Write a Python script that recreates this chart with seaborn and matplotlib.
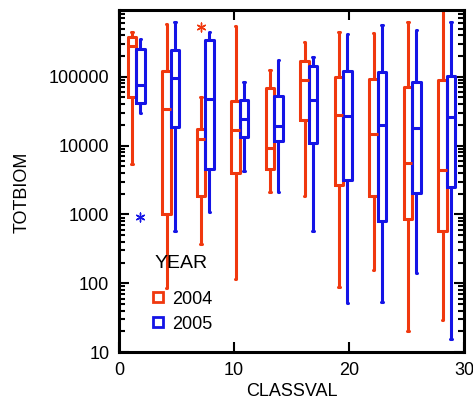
import numpy as np
import pandas as pd
import matplotlib.pyplot as plt
import seaborn as sns
from matplotlib.lines import Line2D
from matplotlib.ticker import LogLocator, FuncFormatter, NullFormatter, FixedLocator

classval = [1.5, 4.5, 7.5, 10.5, 13.5, 16.5, 19.5, 22.5, 25.5, 28.5]

# box stats (min, q1, median, q3, max)
min_2004 = [5360, 84, 371, 117, 2090, 1870, 88, 158, 20, 29]
q1_2004 = [50900, 1016, 1830, 4020, 4640, 23400, 2670, 1870, 861, 565]
med_2004 = [283000, 33400, 12300, 16600, 9330, 90600, 28000, 14900, 5550, 4400]
q3_2004 = [374000, 122000, 17200, 44600, 68700, 169000, 99100, 92700, 70100, 90600]
max_2004 = [442000, 577000, 50900, 540000, 126000, 324000, 451000, 428000, 622000, 950000]

min_2005 = [29200, 565, 1077, 4300, 2130, 571, 52, 54, 142, 15.4]
q1_2005 = [41700, 18800, 4540, 13500, 11600, 11000, 3150, 813, 2040, 2470]
med_2005 = [74800, 95500, 48100, 24500, 19100, 46600, 26700, 20100, 18200, 26200]
q3_2005 = [251000, 240000, 342000, 45500, 52000, 141000, 122000, 117000, 83800, 101000]
max_2005 = [350000, 631000, 442000, 83800, 172000, 196000, 418000, 564000, 478000, 622000]

outlier_classval = [1.5, 7.5]
outlier_year = ["2005", "2004"]
outlier_value = [910, 532000]

years = ["2004", "2005"]
colors = {"2004": "#F0380E", "2005": "#1414E6"}

stats = {
    "2004": [min_2004, q1_2004, med_2004, q3_2004, max_2004],
    "2005": [min_2005, q1_2005, med_2005, q3_2005, max_2005],
}
rows = []
for yr in years:
    for i, cv in enumerate(classval):
        for s in stats[yr]:
            rows.append({"CLASSVAL": cv, "YEAR": yr, "TOTBIOM": s[i]})
df = pd.DataFrame(rows)

sns.set_style("ticks", {"axes.edgecolor": "black", "text.color": "black",
                        "xtick.color": "black", "ytick.color": "black",
                        "axes.labelcolor": "black"})
plt.rcParams["font.family"] = ["Liberation Sans", "DejaVu Sans"]

BOX_WIDTH = 0.48
fig, ax = plt.subplots(figsize=(4.73, 4.09), dpi=100)
sns.boxplot(
    data=df, x="CLASSVAL", y="TOTBIOM", hue="YEAR", hue_order=years,
    native_scale=True, log_scale=(False, True), fill=False,
    width=BOX_WIDTH, gap=0, whis=(0, 100), palette=colors,
    linewidth=2.2, legend=False, ax=ax, capwidths=0.12,
)

# outliers drawn at the dodged box positions
step = np.min(np.diff(classval))
for cv, yr, v in zip(outlier_classval, outlier_year, outlier_value):
    off = (-1 if yr == years[0] else 1) * BOX_WIDTH * step / 4
    ax.scatter(cv + off, v, marker=(6, 2, 0), s=40, color=colors[yr], linewidths=1, zorder=5)

ax.set_xlim(0, 30)
ax.set_ylim(10, 9.3e5)
ax.xaxis.set_major_locator(FixedLocator([0, 10, 20, 30]))
ax.yaxis.set_major_locator(LogLocator(base=10))
ax.yaxis.set_minor_locator(LogLocator(base=10, subs=np.arange(2, 10)))
ax.yaxis.set_major_formatter(FuncFormatter(lambda v, p: f"{v:.0f}"))
ax.yaxis.set_minor_formatter(NullFormatter())

ax.tick_params(which="both", direction="in", top=True, right=True, labelsize=13, width=1.5, pad=7)
ax.tick_params(which="major", length=7)
ax.tick_params(which="minor", length=4)
for sp in ax.spines.values():
    sp.set_linewidth(2.2)

ax.set_xlabel("CLASSVAL", fontsize=13, labelpad=3)
ax.set_ylabel("TOTBIOM", fontsize=13)
ax.yaxis.set_label_coords(-0.255, 0.468)

handles = [Line2D([], [], marker="s", ls="none", mfc="none", mec=colors[y], ms=7, mew=2) for y in years]
leg = ax.legend(handles, years, title="YEAR", frameon=False, loc="upper left",
                bbox_to_anchor=(0.04, 0.33), fontsize=13, title_fontsize=14,
                handletextpad=0.3, labelspacing=0.45, handlelength=1)
leg._legend_box.sep = 13  # extra space under the title

fig.subplots_adjust(left=0.2516, right=0.981, bottom=0.139, top=0.9756)
fig.savefig("out.png", dpi=100)
